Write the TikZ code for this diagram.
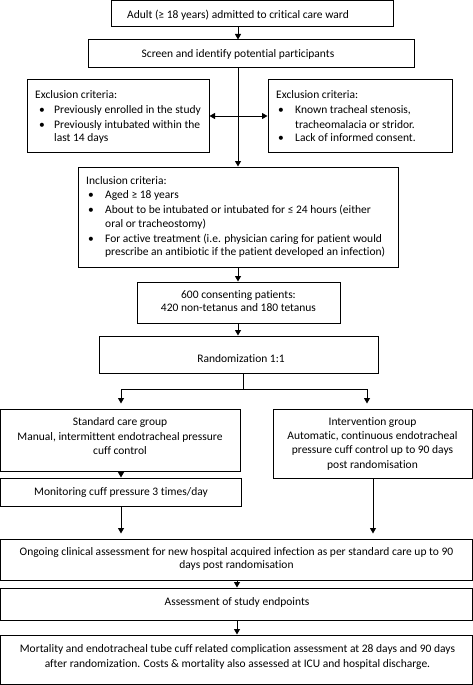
\documentclass[tikz,border=0pt]{standalone}
\usepackage{fontspec}
\setmainfont{Carlito}[Ligatures={NoCommon,NoRequired,NoContextual}]
\usetikzlibrary{arrows.meta}
\newcommand{\mkbox}[5]{\node[box, minimum width={(#4)-(#2)}, minimum height={(#5)-(#3)}] (#1) at ({((#2)+(#4))/2},{((#3)+(#5))/2}) {};}
\newcommand{\bl}[1]{\makebox[19pt][l]{\hspace{#1}\textbullet}}
\newcommand{\fs}{\rule{0pt}{9pt}}
\begin{document}
\begin{tikzpicture}[x=1pt,y=-1pt,
  box/.style={draw, line width=1pt, inner sep=0pt, rectangle},
  txt/.style={inner sep=0pt, font=\fontsize{11.5}{14.3}\selectfont},
  arr/.style={line width=1pt, -{Triangle[length=5.5pt,width=6pt]}},
  ln/.style={line width=1pt}]
\useasboundingbox (0,0) rectangle (473,685);
% boxes
\mkbox{b1}{111}{1}{393}{27}
\mkbox{b2}{88}{40}{414}{68}
\mkbox{exl}{27}{79}{209}{152}
\mkbox{exr}{268}{79}{452}{152}
\mkbox{inc}{78}{167}{398}{267}
\mkbox{pat}{137}{282}{340}{323}
\mkbox{rand}{99}{336}{378}{373}
\mkbox{std}{0.5}{409}{240}{471}
\mkbox{int}{273}{409}{472.5}{478}
\mkbox{mon}{0.5}{478}{241}{506}
\mkbox{ong}{0.5}{539}{472.5}{580}
\mkbox{ase}{0.5}{588}{472.5}{620}
\mkbox{fin}{0.5}{635}{472.5}{684}
% texts
\node[txt, anchor=base] (t1) at (238,19) {Adult (≥ 18 years) admitted to critical care ward};
\node[txt, anchor=base] (t2) at (238,58) {Screen and identify potential participants};
\node[txt, anchor=north west, align=left, font=\fontsize{11.5}{13.5}\selectfont] (texl) at (35,89.7)
  {\fs Exclusion criteria:\\[1.5pt]
   \bl{4pt}Previously enrolled in the study\\[1pt]
   \bl{4pt}Previously intubated within the\\
   \hspace*{19pt}last 14 days};
\node[txt, anchor=north west, align=left, font=\fontsize{11.5}{13.5}\selectfont] (texr) at (276,89.7)
  {\fs Exclusion criteria:\\[1.5pt]
   \bl{2pt}Known tracheal stenosis,\\[1pt]
   \hspace*{19pt}tracheomalacia or stridor.\\
   \bl{2pt}Lack of informed consent.};
\node[txt, anchor=north west, align=left, font=\fontsize{11.5}{13.5}\selectfont] (tinc) at (86,175)
  {\fs Inclusion criteria:\\[1pt]
   \bl{2pt}Aged ≥ 18 years\\[1.5pt]
   \bl{2pt}About to be intubated or intubated for ≤ 24 hours (either\\
   \hspace*{19pt}oral or tracheostomy)\\[1.5pt]
   \bl{2pt}For active treatment (i.e. physician caring for patient would\\
   \hspace*{19pt}prescribe an antibiotic if the patient developed an infection)};
\node[txt, anchor=north, align=center, font=\fontsize{11.5}{13}\selectfont] (tpat) at (238.5,289.5)
  {\fs 600 consenting patients:\\420 non-tetanus and 180 tetanus};
\node[txt, anchor=base] (trand) at (241,362) {Randomization 1:1};
\node[txt, anchor=north, align=center] (tstd) at (120,416.7)
  {\fs Standard care group\\Manual, intermittent endotracheal pressure\\cuff control};
\node[txt, anchor=north, align=center] (tint) at (372.5,416)
  {\fs Intervention group\\Automatic, continuous endotracheal\\pressure cuff control up to 90 days\\post randomisation};
\node[txt, anchor=base] (tmon) at (121,495.5) {Monitoring cuff pressure 3 times/day};
\node[txt, anchor=north, align=center, font=\fontsize{11.5}{13.3}\selectfont] (tong) at (236.5,546)
  {\fs Ongoing clinical assessment for new hospital acquired infection as per standard care up to 90\\days post randomisation};
\node[txt, anchor=base] (tase) at (237,605) {Assessment of study endpoints};
\node[txt, anchor=north, align=center, font=\fontsize{11.5}{15.5}\selectfont] (tfin) at (237.5,643)
  {\fs Mortality and endotracheal tube cuff related complication assessment at 28 days and 90 days\\after randomization. Costs \& mortality also assessed at ICU and hospital discharge.};
% connectors
\coordinate (cx) at (238,0);
\coordinate (mid) at (238,116);
\coordinate (split) at (243,389);
\coordinate (sl) at (121,389);
\coordinate (sr) at (367,389);
\coordinate (cl) at (121,0);
\coordinate (cr) at (373,0);
\coordinate (cb) at (237,0);
\draw[arr] (b1.south -| cx) -- (b2.north -| cx);
\draw[arr] (b2.south -| cx) -- (inc.north -| cx);
\draw[arr] (mid) -- (exl.east |- mid);
\draw[arr] (mid) -- (exr.west |- mid);
\draw[arr] (inc.south -| cx) -- (pat.north -| cx);
\draw[arr] (pat.south -| cx) -- (rand.north -| cx);
\draw[ln] (rand.south -| split) -- (split);
\draw[ln] (sl) -- (sr);
\draw[arr, shorten >=5pt] (sl) -- (std.north -| sl);
\draw[arr, shorten >=5pt] (sr) -- (int.north -| sr);
\draw[arr] (std.south -| cl) -- (mon.north -| cl);
\draw[arr, shorten >=5pt] (mon.south -| cl) -- (ong.north -| cl);
\draw[arr, shorten >=5pt] (int.south -| cr) -- (ong.north -| cr);
\draw[arr] (ong.south -| cb) -- (ase.north -| cb);
\draw[arr] (ase.south -| cb) -- (fin.north -| cb);
\end{tikzpicture}
\end{document}
